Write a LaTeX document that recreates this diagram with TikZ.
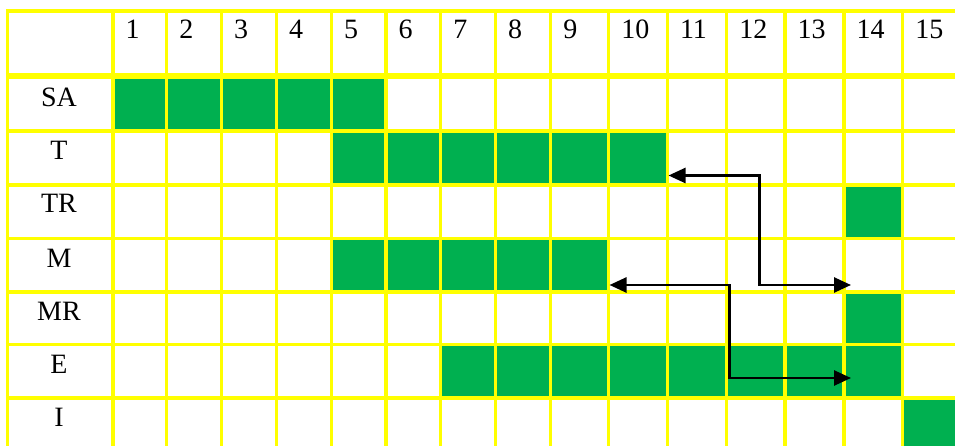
\documentclass[tikz,border=0pt]{standalone}
\usepackage{fontspec}
\setmainfont{Liberation Serif}
\usetikzlibrary{arrows.meta}
\definecolor{gridyellow}{HTML}{FFFF00}
\definecolor{cellgreen}{HTML}{00B050}
\tikzset{
  gridline/.style={draw=gridyellow, line width=3.5pt},
  headline/.style={draw=gridyellow, line width=6.5pt},
  cell/.style={fill=cellgreen},
  hdr/.style={anchor=base west, inner sep=0pt, font=\fontsize{28}{30}\selectfont},
  rowlab/.style={anchor=base, inner sep=0pt, font=\fontsize{28}{30}\selectfont},
  link/.style={draw=black, line width=2.6pt,
    {Triangle[length=17pt,width=15pt]}-{Triangle[length=17pt,width=15pt]}}
}
\begin{document}
\begin{tikzpicture}[x=1pt,y=-1pt]
\useasboundingbox (0,0) rectangle (955,446);
\fill[white] (0,0) rectangle (955,446);
\begin{scope}
\clip (0,0) rectangle (955,446);
% green cells
\fill[cell] (113,76) rectangle (386,131);
\fill[cell] (331.3,131) rectangle (667.3,185);
\fill[cell] (844,185) rectangle (902.7,238.5);
\fill[cell] (331.3,238.5) rectangle (608.7,292);
\fill[cell] (844,292) rectangle (902.7,344.5);
\fill[cell] (440.7,344.5) rectangle (902.7,398);
\fill[cell] (902.7,398) rectangle (962,452);
% grid
\foreach \x in {7.5,113,166.7,221.3,276.3,331.3,386,440.7,495.3,550.7,608.7,667.3,726.7,785,844,902.7}
  \draw[gridline] (\x,9.25) -- (\x,452);
\foreach \y in {11,131,185,238.5,292,344.5,398}
  \draw[gridline] (5.75,\y) -- (962,\y);
\draw[headline] (5.75,76) -- (962,76);
\end{scope}
% header numbers
\foreach \n/\x in {1/113,2/166.7,3/221.3,4/276.3,5/331.3,6/386,7/440.7,8/495.3,9/550.7,10/608.7,11/667.3,12/726.7,13/785,14/844,15/902.7}
  \node[hdr] (h\n) at (\x+12.5,38.5) {\n};
% row labels
\node[rowlab] (rSA) at (59,106.5) {SA};
\node[rowlab] (rT) at (59,159.5) {T};
\node[rowlab] (rTR) at (59,213) {TR};
\node[rowlab] (rM) at (59,267) {M};
\node[rowlab] (rMR) at (59,320.5) {MR};
\node[rowlab] (rE) at (59,373.5) {E};
\node[rowlab] (rI) at (59,426.5) {I};
% arrows
\coordinate (a1s) at (668.5,175.5);
\coordinate (a1m) at (759.5,175.5);
\coordinate (a1n) at (759.5,285);
\coordinate (a1e) at (851,285);
\coordinate (a2s) at (609.5,285);
\coordinate (a2m) at (729.3,285);
\coordinate (a2n) at (729.3,378);
\coordinate (a2e) at (851,378);
\draw[link] (a1s) -- (a1m) -- (a1n) -- (a1e);
\draw[link] (a2s) -- (a2m) -- (a2n) -- (a2e);
\end{tikzpicture}
\end{document}
